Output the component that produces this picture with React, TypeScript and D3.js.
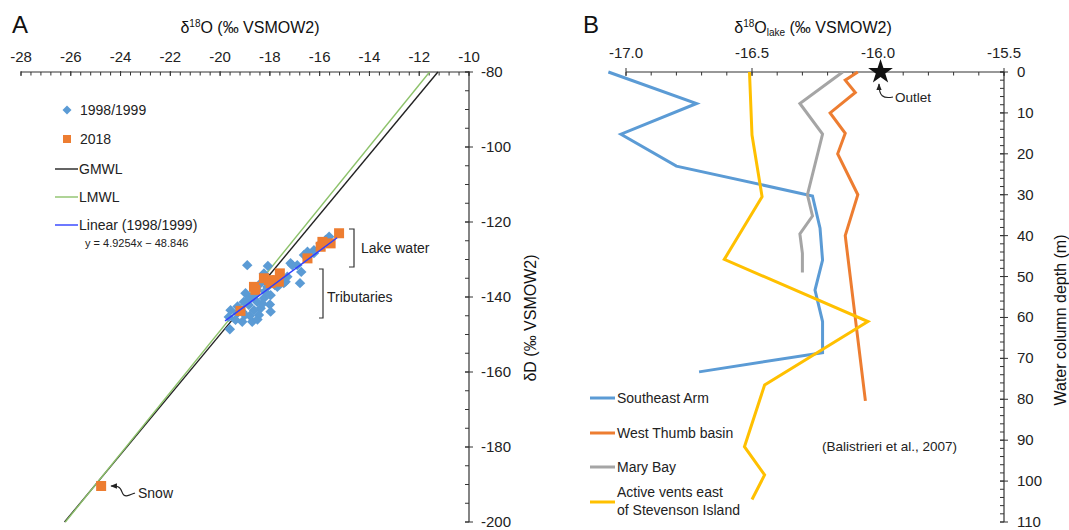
import React from 'react';
import * as d3 from 'd3';

const FONT = '"Liberation Sans", Arial, Helvetica, sans-serif';

// ---- Panel A data ----
const xTicksA = [-28, -26, -24, -22, -20, -18, -16, -14, -12, -10];
const yTicksA = [-80, -100, -120, -140, -160, -180, -200];

// [δ18O, δD]
const samples1998 = [
  [-18.91, -131.5], [-18.08, -131.7], [-18.24, -133.7], [-17.1, -131.5], [-16.9, -131.5],
  [-16.74, -133.3], [-16.79, -136.3], [-17.44, -136.3], [-17.3, -134.6], [-18.1, -137.3],
  [-18.37, -136.3], [-18.98, -139.0], [-18.78, -140.3], [-19.05, -141.3], [-18.85, -142.1],
  [-18.51, -141.3], [-18.24, -140.3], [-17.97, -139.5], [-18.37, -143.0], [-18.64, -143.5],
  [-19.11, -143.9], [-19.31, -144.3], [-19.58, -143.5], [-19.65, -145.3], [-19.38, -146.1],
  [-19.11, -146.6], [-18.71, -146.6], [-17.97, -143.9], [-18.44, -144.8], [-19.61, -148.6],
  [-17.7, -137.3], [-17.57, -135.9], [-18.51, -138.1], [-18.91, -140.8], [-16.49, -127.9],
  [-16.23, -127.5], [-16.63, -128.8], [-15.96, -125.7], [-15.62, -123.9], [-15.76, -124.8],
  [-17.17, -131.0], [-17.37, -135.9], [-17.57, -135.0], [-16.23, -128.3], [-18.6, -139.5],
  [-18.3, -141.8], [-18.0, -142.0], [-18.8, -145.0], [-19.3, -142.5], [-18.2, -138.5],
  [-17.8, -136.8], [-19.0, -144.8], [-18.5, -146.0],
];

const samples2018 = [
  [-19.18, -143.7], [-18.64, -137.3], [-18.58, -138.1], [-18.24, -135.0], [-18.04, -135.5],
  [-17.6, -133.7], [-17.64, -135.9], [-17.97, -136.3], [-16.49, -129.7], [-15.96, -126.6],
  [-15.56, -125.7], [-15.22, -123.0], [-15.89, -125.3], [-17.7, -135.5],
];

const snow = [-24.78, -190.4];

const gmwl = { slope: 8, intercept: 10 };
const lmwl = { slope: 8.2, intercept: 15 };
const fit1998 = { slope: 4.9254, intercept: -48.846, from: -19.8, to: -15.3 };

// ---- Panel B data ----
const xTicksB = [-17.0, -16.5, -16.0, -15.5];
const yTicksB = [0, 10, 20, 30, 40, 50, 60, 70, 80, 90, 100, 110];

// [δ18O, depth m]
const southeastArm = [
  [-17.07, 0], [-16.72, 7.7], [-17.02, 15.2], [-16.8, 23], [-16.26, 30.3], [-16.23, 38.2],
  [-16.22, 46], [-16.25, 53.3], [-16.22, 61], [-16.22, 68.6], [-16.71, 73.3],
];
const westThumb = [
  [-16.08, 0], [-16.13, 2], [-16.09, 5], [-16.19, 10], [-16.13, 15], [-16.16, 20],
  [-16.08, 30], [-16.13, 40], [-16.05, 80.4],
];
const maryBay = [
  [-16.14, 0], [-16.31, 7.7], [-16.22, 15.2], [-16.28, 30], [-16.26, 35.2], [-16.31, 39.6],
  [-16.3, 44.3], [-16.3, 49],
];
const activeVents = [
  [-16.51, 0], [-16.5, 15.4], [-16.46, 30.5], [-16.61, 45.8], [-16.04, 61], [-16.45, 76.5],
  [-16.53, 91.6], [-16.45, 98.5], [-16.5, 104.5],
];
const outlet = [-15.99, 0];

const profiles = [
  { name: ['Southeast Arm'], data: southeastArm, color: '#5B9BD5' },
  { name: ['West Thumb basin'], data: westThumb, color: '#ED7D31' },
  { name: ['Mary Bay'], data: maryBay, color: '#A5A5A5' },
  { name: ['Active vents east', 'of Stevenson Island'], data: activeVents, color: '#FFC000' },
];

export default function App() {
  const xA = d3.scaleLinear().domain([-28, -10]).range([21, 469]);
  const yA = d3.scaleLinear().domain([-80, -200]).range([72, 522]);
  const xB = d3.scaleLinear().domain([-17, -15.5]).range([626, 1004]);
  const yB = d3.scaleLinear().domain([0, 110]).range([72, 522]);

  const mwl = (m: { slope: number; intercept: number }) => {
    const x1 = (-80 - m.intercept) / m.slope;
    const x2 = (-200 - m.intercept) / m.slope;
    return { x1: xA(x1), y1: yA(-80), x2: xA(x2), y2: yA(-200) };
  };
  const g = mwl(gmwl);
  const l = mwl(lmwl);

  const minorXA = d3.range(-28, -9.99, 0.4);
  const minorYA = d3.range(-80, -200.01, -5);
  const minorXB = d3.range(-17, -15.49, 0.1);
  const minorYB = d3.range(0, 110.01, 2);

  const line = d3.line<number[]>().x(d => xB(d[0])).y(d => yB(d[1]));
  const star = d3.symbol().type(d3.symbolStar).size(190)();
  const ax = '#333';

  return (
    <svg width={1069} height={530} style={{ position: 'absolute', left: 0, top: 0, background: '#fff' }}
      fontFamily={FONT}>
      <defs>
        <marker id="arr" viewBox="0 0 10 10" refX="9" refY="5" markerWidth="6" markerHeight="6" orient="auto-start-reverse">
          <path d="M0,1 L10,5 L0,9 z" fill="#222" />
        </marker>
      </defs>

      {/* ===== Panel A ===== */}
      <text x={12} y={33} fontSize={24} fill="#111">A</text>
      <text x={250} y={33} fontSize={16} textAnchor="middle" fill="#111">
        δ<tspan fontSize={10} dy={-6}>18</tspan><tspan dy={6}>O (‰ VSMOW2)</tspan>
      </text>

      {/* x axis (top) */}
      <line x1={xA(-28)} x2={xA(-10)} y1={yA(-80)} y2={yA(-80)} stroke={ax} strokeWidth={1.2} />
      {minorXA.map((v, i) => (
        <line key={'mxa' + i} x1={xA(v)} x2={xA(v)} y1={yA(-80)} y2={yA(-80) + 3.5} stroke={ax} />
      ))}
      {xTicksA.map(v => (
        <g key={'xa' + v}>
          <line x1={xA(v)} x2={xA(v)} y1={yA(-80) - 1} y2={yA(-80) + 4} stroke={ax} />
          <text x={xA(v)} y={62} fontSize={15} textAnchor="middle" fill="#222">{v}</text>
        </g>
      ))}

      {/* y axis (right) */}
      <line x1={xA(-10)} x2={xA(-10)} y1={yA(-80)} y2={yA(-200)} stroke={ax} strokeWidth={1.2} />
      {minorYA.map((v, i) => (
        <line key={'mya' + i} x1={xA(-10) - 4} x2={xA(-10)} y1={yA(v)} y2={yA(v)} stroke={ax} />
      ))}
      {yTicksA.map(v => (
        <g key={'ya' + v}>
          <line x1={xA(-10) - 4} x2={xA(-10) + 4} y1={yA(v)} y2={yA(v)} stroke={ax} />
          <text x={481} y={yA(v) + 5} fontSize={15} fill="#222">{v}</text>
        </g>
      ))}
      <text transform="translate(536,318) rotate(-90)" fontSize={16} textAnchor="middle" fill="#111">δD (‰ VSMOW2)</text>

      {/* water lines */}
      <line {...g} stroke="#222" strokeWidth={1.4} />
      <line {...l} stroke="#8DC26B" strokeWidth={1.4} />

      {/* points */}
      {samples1998.map((d, i) => (
        <rect key={'b' + i} x={-3.7} y={-3.7} width={7.4} height={7.4} fill="#5B9BD5"
          transform={`translate(${xA(d[0])},${yA(d[1])}) rotate(45)`} />
      ))}
      {samples2018.map((d, i) => (
        <rect key={'o' + i} x={xA(d[0]) - 5} y={yA(d[1]) - 5} width={10} height={10} fill="#ED7D31" />
      ))}
      <rect x={xA(snow[0]) - 5} y={yA(snow[1]) - 5} width={10} height={10} fill="#ED7D31" />

      {/* regression */}
      <line x1={xA(fit1998.from)} y1={yA(fit1998.slope * fit1998.from + fit1998.intercept)}
        x2={xA(fit1998.to)} y2={yA(fit1998.slope * fit1998.to + fit1998.intercept)}
        stroke="#2F3FFF" strokeWidth={1.5} />

      {/* legend A */}
      <rect x={-3.2} y={-3.2} width={6.4} height={6.4} fill="#5B9BD5" transform="translate(67,110) rotate(45)" />
      <text x={80} y={115} fontSize={14} fill="#222">1998/1999</text>
      <rect x={63} y={135} width={8} height={8} fill="#ED7D31" />
      <text x={80} y={144} fontSize={14} fill="#222">2018</text>
      <line x1={55} x2={78} y1={169} y2={169} stroke="#222" strokeWidth={1.4} />
      <text x={79} y={174} fontSize={14} fill="#222">GMWL</text>
      <line x1={55} x2={78} y1={197} y2={197} stroke="#8DC26B" strokeWidth={1.4} />
      <text x={79} y={202} fontSize={14} fill="#222">LMWL</text>
      <line x1={55} x2={78} y1={225} y2={225} stroke="#2F3FFF" strokeWidth={1.4} />
      <text x={79} y={230} fontSize={14} fill="#222">Linear (1998/1999)</text>
      <text x={85} y={247} fontSize={11} fill="#222">y = 4.9254x − 48.846</text>

      {/* annotations A */}
      <path d="M349,229 H354 V267 H349" fill="none" stroke="#333" strokeWidth={1.2} />
      <text x={361} y={253} fontSize={14} fill="#222">Lake water</text>
      <path d="M319,269 H323 V318 H319" fill="none" stroke="#333" strokeWidth={1.2} />
      <text x={327} y={302} fontSize={14} fill="#222">Tributaries</text>
      <path d="M135,493 C128,496 124,498 122,492 C120,486 117,486 111,486" fill="none" stroke="#222"
        strokeWidth={1.1} markerEnd="url(#arr)" />
      <text x={138} y={498} fontSize={14} fill="#222">Snow</text>

      {/* ===== Panel B ===== */}
      <text x={583} y={33} fontSize={24} fill="#111">B</text>
      <text x={813} y={33} fontSize={16} textAnchor="middle" fill="#111">
        δ<tspan fontSize={10} dy={-6}>18</tspan><tspan dy={6}>O</tspan><tspan fontSize={10} dy={3}>lake</tspan>
        <tspan dy={-3}> (‰ VSMOW2)</tspan>
      </text>

      <line x1={xB(-17)} x2={xB(-15.5)} y1={yB(0)} y2={yB(0)} stroke={ax} strokeWidth={1.2} />
      {minorXB.map((v, i) => (
        <line key={'mxb' + i} x1={xB(v)} x2={xB(v)} y1={yB(0)} y2={yB(0) + 3.5} stroke={ax} />
      ))}
      {xTicksB.map(v => (
        <g key={'xb' + v}>
          <line x1={xB(v)} x2={xB(v)} y1={yB(0) - 4} y2={yB(0) + 4} stroke={ax} />
          <text x={xB(v)} y={58} fontSize={15} textAnchor="middle" fill="#222">{v.toFixed(1)}</text>
        </g>
      ))}

      <line x1={xB(-15.5)} x2={xB(-15.5)} y1={yB(0)} y2={yB(110)} stroke={ax} strokeWidth={1.2} />
      {minorYB.map((v, i) => (
        <line key={'myb' + i} x1={xB(-15.5) - 4} x2={xB(-15.5)} y1={yB(v)} y2={yB(v)} stroke={ax} />
      ))}
      {yTicksB.map(v => (
        <g key={'yb' + v}>
          <line x1={xB(-15.5) - 4} x2={xB(-15.5) + 4} y1={yB(v)} y2={yB(v)} stroke={ax} />
          <text x={1017} y={yB(v) + 5} fontSize={15} fill="#222">{v}</text>
        </g>
      ))}
      <text transform="translate(1066,320) rotate(-90)" fontSize={16} textAnchor="middle" fill="#111">Water column depth (m)</text>

      {profiles.map(p => (
        <path key={p.name[0]} d={line(p.data) || ''} fill="none" stroke={p.color} strokeWidth={3}
          strokeLinejoin="miter" />
      ))}

      <path d={star || ''} transform={`translate(${xB(outlet[0])},${yB(outlet[1])})`} fill="#111" />
      <path d="M893,97 C883,99 879,96 879,84" fill="none" stroke="#222" strokeWidth={1.1} markerEnd="url(#arr)" />
      <text x={895} y={102} fontSize={13.5} fill="#222">Outlet</text>

      {/* legend B */}
      {profiles.map((p, i) => {
        const y = [398, 433, 467, 502][i];
        return (
          <g key={'lg' + i}>
            <line x1={590} x2={615} y1={y} y2={y} stroke={p.color} strokeWidth={3} />
            {p.name.length === 1 ? (
              <text x={617} y={y + 5} fontSize={14} fill="#222">{p.name[0]}</text>
            ) : (
              <text x={617} y={y - 5} fontSize={14} fill="#222">
                <tspan x={617}>{p.name[0]}</tspan>
                <tspan x={617} dy={18}>{p.name[1]}</tspan>
              </text>
            )}
          </g>
        );
      })}
      <text x={822} y={451} fontSize={13.5} fill="#222">(Balistrieri et al., 2007)</text>
    </svg>
  );
}
